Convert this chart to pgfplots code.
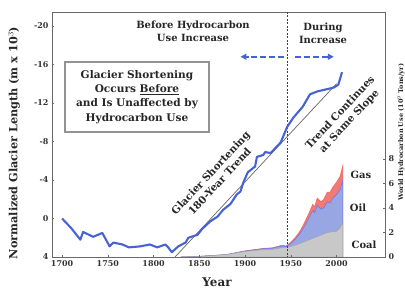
\documentclass[border=0pt]{standalone}
\usepackage{fontspec}
\setmainfont{DejaVu Serif}
\usepackage{pgfplots}
\pgfplotsset{compat=1.18}
\usetikzlibrary{arrows.meta}
\definecolor{glacier}{RGB}{70,98,212}
\definecolor{gasc}{RGB}{242,122,118}
\definecolor{oilc}{RGB}{152,166,228}
\definecolor{coalc}{RGB}{200,200,200}
\definecolor{framec}{RGB}{105,105,105}
\begin{document}
\begin{tikzpicture}
% right axis: hydrocarbon use
\begin{axis}[
  scale only axis, width=333bp, height=245bp,
  xmin=1689, xmax=2053, ymin=0, ymax=20,
  axis x line=none, axis y line*=right,
  y axis line style={framec, line width=0.8pt},
  ytick={0,2,4,6,8},
  tick style={framec},
  major tick length=2.5pt,
  ticklabel style={font=\bfseries\fontsize{8}{8}\selectfont, text=black!80},
  /pgf/number format/assume math mode=true,
]
\addplot[fill=gasc, draw=gasc!85!red, line width=0.6pt] coordinates {
(1830,0) (1850,0.05) (1880,0.2) (1900,0.5) (1920,0.7) (1930,0.75) (1940,0.95) (1945,0.9)
(1950,1.2) (1955,1.6) (1960,2.1) (1965,2.8) (1970,3.6) (1974,4.3) (1976,4.1) (1979,4.8)
(1983,4.5) (1986,4.7) (1990,5.3) (1993,5.3) (1996,5.7) (2000,6.1) (2004,6.6) (2007,7.5)
} \closedcycle;
\addplot[fill=oilc, draw=oilc!70!blue, line width=0.5pt] coordinates {
(1830,0) (1850,0.05) (1880,0.2) (1900,0.48) (1920,0.68) (1930,0.72) (1940,0.9) (1945,0.85)
(1950,1.1) (1955,1.45) (1960,1.9) (1965,2.5) (1970,3.2) (1974,3.8) (1976,3.6) (1979,4.2)
(1983,3.9) (1986,4.0) (1990,4.5) (1993,4.4) (1996,4.8) (2000,5.1) (2004,5.5) (2007,6.3)
} \closedcycle;
\addplot[fill=coalc, draw=coalc!80!black, line width=0.4pt] coordinates {
(1830,0) (1850,0.05) (1880,0.2) (1900,0.45) (1920,0.6) (1930,0.62) (1940,0.75) (1950,0.85)
(1960,1.1) (1970,1.4) (1980,1.7) (1990,2.0) (2000,2.1) (2004,2.4) (2007,2.8)
} \closedcycle;
\end{axis}
% left axis: glacier length
\begin{axis}[
  scale only axis, width=333bp, height=245bp,
  xmin=1689, xmax=2053, ymin=-21.45, ymax=4, y dir=reverse,
  ytick={-20,-16,-12,-8,-4,0,4},
  xtick={1700,1750,1800,1850,1900,1950,2000},
  xtick pos=lower, ytick pos=left,
  axis line style={framec, line width=0.8pt},
  tick style={framec},
  major tick length=2.5pt,
  ticklabel style={font=\bfseries\fontsize{8}{8}\selectfont, text=black!80},
  /pgf/number format/.cd, 1000 sep={}, assume math mode=true,
]
\draw[black!75, dash pattern=on 2pt off 1.5pt, line width=0.9pt] (axis cs:1946,-21.45) -- (axis cs:1946,4);
\addplot[black!60, line width=0.7pt] coordinates {(1823.5,4) (2000,-14)};
\addplot[glacier, line width=2.1pt, line join=round] coordinates {
(1700,0.0) (1710,1.0) (1720,2.2) (1723,1.4) (1734,1.9) (1744,1.5) (1752,2.9) (1756,2.5)
(1766,2.7) (1773,3.0) (1785,2.9) (1796,2.7) (1804,3.0) (1813,2.7) (1816,3.0) (1820,3.5)
(1827,2.9) (1835,2.5) (1838,2.0) (1848,1.7) (1853,1.1) (1862,0.3) (1870,-0.2) (1876,-0.9)
(1884,-1.5) (1891,-2.5) (1895,-2.8) (1898,-3.7) (1903,-4.8) (1911,-5.4) (1913,-6.4) (1920,-6.6)
(1922,-6.9) (1928,-6.8) (1939,-7.9) (1946,-9.5) (1953,-10.5) (1963,-11.6) (1971,-12.9)
(1979,-13.2) (1988,-13.4) (1997,-13.6) (2002,-13.9) (2006,-15.2)
};
\draw[glacier, line width=1.6pt, dash pattern=on 6pt off 3pt, -{Triangle[length=6pt,width=6pt]}] (axis cs:1943,-16.8) -- (axis cs:1895,-16.8);
\draw[glacier, line width=1.6pt, dash pattern=on 6pt off 3pt, -{Triangle[length=6pt,width=6pt]}] (axis cs:1955,-16.8) -- (axis cs:1997,-16.8);
\end{axis}
% annotations (frame: 0..333 x 0..245 bp)
\begin{scope}[every node/.style={font=\bfseries\fontsize{10}{13}\selectfont, text=black!85, align=center, inner sep=0pt}]
\node at (141bp,225.5bp) {Before Hydrocarbon\\Use Increase};
\node at (271bp,223.5bp) {During\\Increase};
\draw[gray!85, line width=1.2pt] (13bp,125bp) rectangle (157bp,195bp);
\node[font=\bfseries\fontsize{10.6}{14.3}\selectfont] at (85bp,160bp) {Glacier Shortening\\Occurs \underline{Before}\\and Is Unaffected by\\Hydrocarbon Use};
\node[rotate=47, font=\bfseries\fontsize{10.3}{12.5}\selectfont] at (163bp,80bp) {Glacier Shortening\\180-Year Trend};
\node[rotate=47, font=\bfseries\fontsize{10.3}{12.5}\selectfont] at (293bp,140bp) {Trend Continues\\at Same Slope};
\node at (309bp,82bp) {Gas};
\node at (306bp,49bp) {Oil};
\node at (312bp,12bp) {Coal};
\node[rotate=90, font=\bfseries\fontsize{11.3}{12}\selectfont] at (-38bp,114bp) {Normalized Glacier Length (m x 10$^3$)};
\node[font=\bfseries\fontsize{12}{13}\selectfont] at (165bp,-25bp) {Year};
\node[rotate=90, font=\bfseries\fontsize{6.5}{7}\selectfont] at (349bp,125bp) {World Hydrocarbon Use (10$^9$ Tons/yr)};
\end{scope}
\pgfresetboundingbox
\path (-52bp,-34bp) rectangle (353bp,257bp);
\end{tikzpicture}
\end{document}
